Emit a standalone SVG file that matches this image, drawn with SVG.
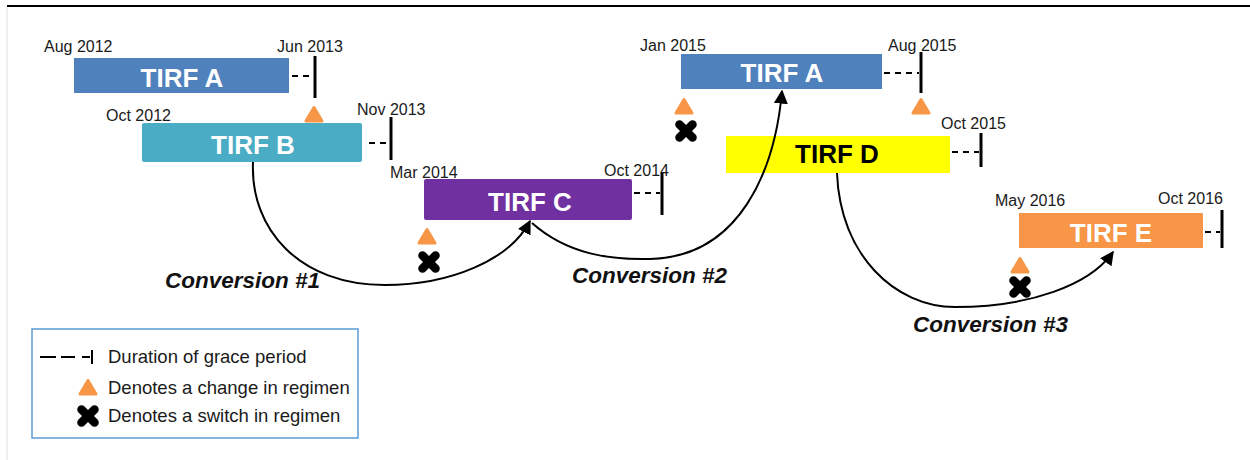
<svg xmlns="http://www.w3.org/2000/svg" width="1250" height="460" viewBox="0 0 1250 460">
<style>
.date{font-family:"Liberation Sans",Arial,sans-serif;font-size:16px;fill:#1a1a1a}
.bar{font-family:"Liberation Sans",Arial,sans-serif;font-size:26px;font-weight:bold;fill:#fff;text-anchor:middle}
.conv{font-family:"Liberation Sans",Arial,sans-serif;font-size:22.5px;font-weight:bold;font-style:italic;fill:#111}
.leg{font-family:"Liberation Sans",Arial,sans-serif;font-size:18.5px;fill:#1a1a1a}
.dash{stroke:#000;stroke-width:2;stroke-dasharray:6 5;fill:none}
.tick{stroke:#000;stroke-width:3;fill:none}
.curve{stroke:#000;stroke-width:2;fill:none;marker-end:url(#arr)}
</style>
<defs>
<marker id="arr" viewBox="0 0 10 10" refX="9" refY="5" markerWidth="7" markerHeight="7" markerUnits="strokeWidth" orient="auto">
<path d="M0,0 L10,5 L0,10 z" fill="#000"/>
</marker>
<path id="tri" d="M0,-6.5 L-8,7 L8,7 z" fill="#F79646" stroke="#F79646" stroke-width="3" stroke-linejoin="round"/>
<g id="xx" stroke="#000" stroke-width="8.5" stroke-linecap="round">
<line x1="-6.5" y1="-6.5" x2="6.5" y2="6.5"/>
<line x1="-6.5" y1="6.5" x2="6.5" y2="-6.5"/>
</g>
</defs>
<rect width="1250" height="460" fill="#fff"/>
<line x1="7" y1="6" x2="1250" y2="6" stroke="#000" stroke-width="2"/>
<line x1="7" y1="7" x2="7" y2="460" stroke="#ddd" stroke-width="1"/>

<g id="tirf-a1">
<rect x="74" y="58" width="215" height="35" fill="#4F81BD"/>
<text class="bar" x="182" y="87">TIRF A</text>
<text class="date" x="44" y="52">Aug 2012</text>
<text class="date" x="277" y="52">Jun 2013</text>
<line class="dash" x1="292" y1="76" x2="312" y2="76"/>
<line class="tick" x1="315" y1="56" x2="315" y2="98"/>
<use href="#tri" x="314" y="114"/>
</g>

<g id="tirf-b">
<rect x="142" y="123" width="220" height="39" rx="2" fill="#4BACC6"/>
<text class="bar" x="253" y="154">TIRF B</text>
<text class="date" x="106" y="121">Oct 2012</text>
<text class="date" x="357" y="115">Nov 2013</text>
<line class="dash" x1="369" y1="143" x2="389" y2="143"/>
<line class="tick" x1="391" y1="117" x2="391" y2="160"/>
</g>

<g id="tirf-c">
<rect x="424" y="179" width="208" height="41" rx="2" fill="#7030A0"/>
<text class="bar" x="530" y="211">TIRF C</text>
<text class="date" x="390" y="178">Mar 2014</text>
<text class="date" x="604" y="176">Oct 2014</text>
<line class="dash" x1="634" y1="193" x2="660" y2="193"/>
<line class="tick" x1="662" y1="173" x2="662" y2="215"/>
<use href="#tri" x="427" y="236"/>
<use href="#xx" x="429" y="262"/>
</g>

<g id="tirf-a2">
<rect x="681" y="54" width="201" height="35" fill="#4F81BD"/>
<text class="bar" x="782" y="82">TIRF A</text>
<text class="date" x="640" y="51">Jan 2015</text>
<text class="date" x="888" y="51">Aug 2015</text>
<line class="dash" x1="884" y1="73" x2="919" y2="73"/>
<line class="tick" x1="921" y1="52" x2="921" y2="93"/>
<use href="#tri" x="684" y="106"/>
<use href="#xx" x="686" y="131"/>
<use href="#tri" x="921" y="106"/>
</g>

<g id="tirf-d">
<rect x="726" y="136" width="224" height="37" fill="#FFFF00"/>
<text class="bar" x="837" y="163" style="fill:#000">TIRF D</text>
<text class="date" x="941" y="129">Oct 2015</text>
<line class="dash" x1="952" y1="152" x2="979" y2="152"/>
<line class="tick" x1="981" y1="133" x2="981" y2="167"/>
</g>

<g id="tirf-e">
<rect x="1019" y="213" width="184" height="35" fill="#F79646"/>
<text class="bar" x="1111" y="242">TIRF E</text>
<text class="date" x="995" y="206">May 2016</text>
<text class="date" x="1158" y="204">Oct 2016</text>
<line class="dash" x1="1205" y1="232" x2="1220" y2="232"/>
<line class="tick" x1="1222" y1="210" x2="1222" y2="248"/>
<use href="#tri" x="1020" y="265"/>
<use href="#xx" x="1020" y="287"/>
</g>

<g id="connectors">
<path class="curve" d="M253,162 C250,230 300,285 385,285 C450,285 510,260 530,221"/>
<path class="curve" d="M532,223 C568,255 612,260 650,259 C740,257 775,170 782,91"/>
<path class="curve" d="M837,173 C840,255 895,307 955,307 C1030,307 1090,285 1113,252"/>
<text class="conv" x="165" y="288">Conversion #1</text>
<text class="conv" x="572" y="283">Conversion #2</text>
<text class="conv" x="913" y="332">Conversion #3</text>
</g>

<g id="legend">
<rect x="32" y="329" width="326" height="109" fill="#fff" stroke="#5B9BD5" stroke-width="1.5"/>
<line x1="40" y1="357" x2="56" y2="357" stroke="#000" stroke-width="2"/>
<line x1="61" y1="357" x2="75" y2="357" stroke="#000" stroke-width="2"/>
<line x1="82" y1="357" x2="90" y2="357" stroke="#000" stroke-width="2"/>
<line x1="92" y1="350" x2="92" y2="364" stroke="#000" stroke-width="2"/>
<text class="leg" x="108" y="363">Duration of grace period</text>
<use href="#tri" x="88" y="387"/>
<text class="leg" x="108" y="394">Denotes a change in regimen</text>
<use href="#xx" x="88" y="416"/>
<text class="leg" x="108" y="422">Denotes a switch in regimen</text>
</g>
</svg>
